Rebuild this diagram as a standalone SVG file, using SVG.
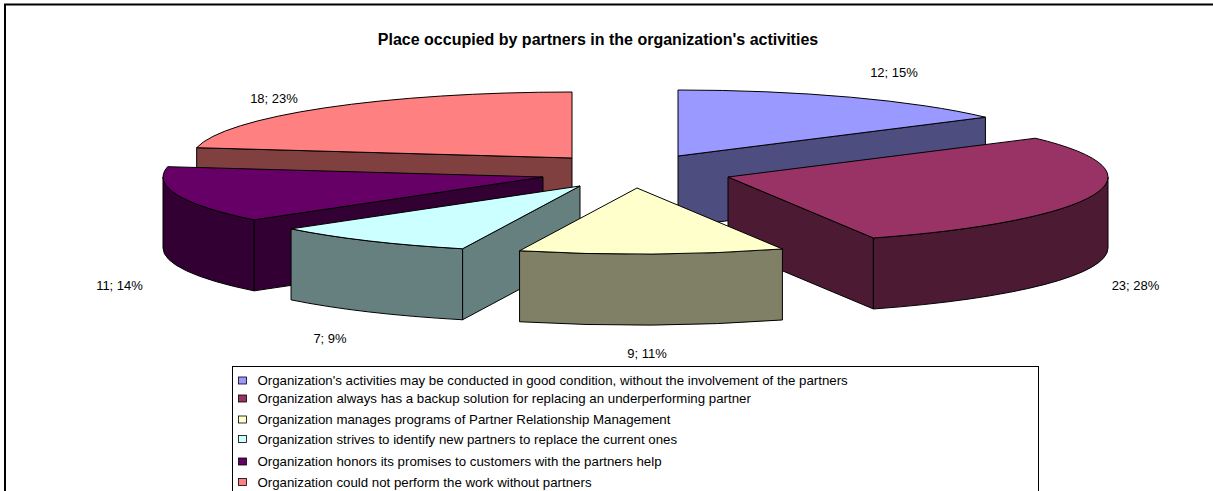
<svg xmlns="http://www.w3.org/2000/svg" width="1213" height="491" viewBox="0 0 1213 491">
<style>
.s{stroke:#000;stroke-width:1;stroke-linejoin:round}
.t{font-family:"Liberation Sans",Arial,sans-serif;font-size:13px;fill:#000}
.lg{font-size:13.27px}
.lbl{text-anchor:middle}
.title{font-family:"Liberation Sans",Arial,sans-serif;font-size:16px;font-weight:bold;text-anchor:middle;fill:#000}
.sw{stroke:#000;stroke-width:0.8}
</style>
<rect x="0" y="0" width="1213" height="491" fill="#fff"/>
<rect x="5" y="4.5" width="1240" height="520" fill="#fff" stroke="#000" stroke-width="2"/>
<text class="title" x="598" y="45">Place occupied by partners in the organization's activities</text>

<g id="slice-blue">
<path class="s" fill="#4D4D80" d="M678,156 L985.43,117.21 L985.43,188.21 L678,227 Z"/>
<path class="s" fill="#9999FF" d="M678,156 L678,90 A380,66 0 0,1 985.43,117.21 Z"/>
</g>
<g id="slice-salmon">
<path class="s" fill="#804040" d="M572,158 L196.68,147.68 L196.68,218.68 L572,229 Z"/>
<path class="s" fill="#FF8080" d="M572,158 L196.68,147.68 A380,66 0 0,1 572,92 Z"/>
</g>
<g id="slice-maroon">
<path class="s" fill="#4D1A33" d="M728,177 L873.42,237.98 L873.42,308.98 L728,248 Z"/>
<path class="s" fill="#4D1A33" d="M1108,177 A380,66 0 0,1 873.42,237.98 L873.42,308.98 A380,66 0 0,0 1108,248 Z"/>
<path class="s" fill="#993366" d="M728,177 L1035.43,138.21 A380,66 0 0,1 873.42,237.98 Z"/>
</g>
<g id="slice-purple">
<path class="s" fill="#330033" d="M543,177 L254.04,219.86 L254.04,290.86 L543,248 Z"/>
<path class="s" fill="#330033" d="M254.04,219.86 A380,66 0 0,1 163,177 L163,248 A380,66 0 0,0 254.04,290.86 Z"/>
<path class="s" fill="#660066" d="M543,177 L254.04,219.86 A380,66 0 0,1 167.68,166.68 Z"/>
</g>
<g id="slice-cyan">
<path class="s" fill="#668080" d="M580,186 L462.57,248.77 L462.57,319.77 L580,257 Z"/>
<path class="s" fill="#668080" d="M462.57,248.77 A380,66 0 0,1 291.04,228.86 L291.04,299.86 A380,66 0 0,0 462.57,319.77 Z"/>
<path class="s" fill="#CCFFFF" d="M580,186 L462.57,248.77 A380,66 0 0,1 291.04,228.86 Z"/>
</g>
<g id="slice-yellow">
<path class="s" fill="#808066" d="M782.42,248.98 A380,66 0 0,1 519.57,250.77 L519.57,321.77 A380,66 0 0,0 782.42,319.98 Z"/>
<path class="s" fill="#FFFFCC" d="M637,188 L782.42,248.98 A380,66 0 0,1 519.57,250.77 Z"/>
</g>

<g id="labels">
<text class="t lbl" x="894" y="76.5">12; 15%</text>
<text class="t lbl" x="1135.5" y="289.7">23; 28%</text>
<text class="t lbl" x="647" y="357.7">9; 11%</text>
<text class="t lbl" x="330" y="343">7; 9%</text>
<text class="t lbl" x="119.5" y="289.7">11; 14%</text>
<text class="t lbl" x="274" y="103">18; 23%</text>
</g>

<g id="legend">
<rect x="232.5" y="366.5" width="806" height="200" fill="#fff" stroke="#000" stroke-width="1"/>
<rect class="sw" x="238.5" y="377" width="8" height="7" fill="#9999FF"/>
<text class="t lg" x="257.5" y="385.2">Organization's activities may be conducted in good condition, without the involvement of the partners</text>
<rect class="sw" x="238.5" y="395" width="8" height="7" fill="#993366"/>
<text class="t lg" x="257.5" y="403.2">Organization always has a backup solution for replacing an underperforming partner</text>
<rect class="sw" x="238.5" y="416" width="8" height="7" fill="#FFFFCC"/>
<text class="t lg" x="257.5" y="424.2">Organization manages programs of Partner Relationship Management</text>
<rect class="sw" x="238.5" y="435.5" width="8" height="7" fill="#CCFFFF"/>
<text class="t lg" x="257.5" y="443.7">Organization strives to identify new partners to replace the current ones</text>
<rect class="sw" x="238.5" y="458" width="8" height="7" fill="#660066"/>
<text class="t lg" x="257.5" y="466.2">Organization honors its promises to customers with the partners help</text>
<rect class="sw" x="238.5" y="478.5" width="8" height="7" fill="#FF8080"/>
<text class="t lg" x="257.5" y="486.7">Organization could not perform the work without partners</text>
</g>
</svg>
